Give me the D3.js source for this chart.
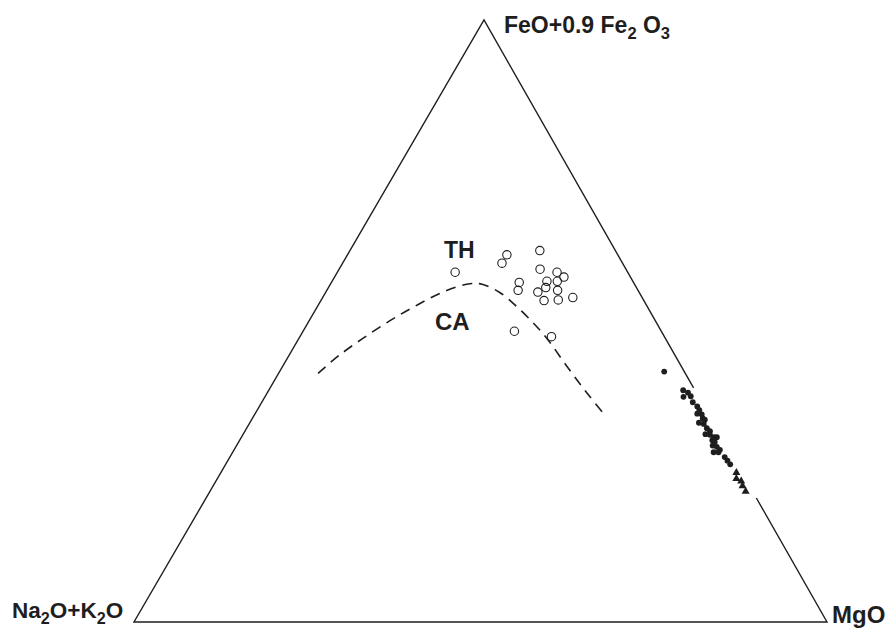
<!DOCTYPE html>
<html><head><meta charset="utf-8">
<script src="https://cdn.jsdelivr.net/npm/d3@7"></script>
<style>body{margin:0;background:#fff}</style>
</head><body>
<svg id="c" width="891" height="631"></svg>
<script>
// Ternary compositions [A, F, M] in %  (A = Na2O+K2O, F = FeO+0.9Fe2O3, M = MgO)
const openCircles = [
  [24.9,58.1,17.0],[16.0,61.0,23.0],[17.4,59.6,23.0],[10.9,61.7,27.4],[12.4,58.6,29.0],
  [10.2,58.1,31.7],[9.6,57.3,33.1],[10.9,56.6,32.5],[12.4,56.6,31.0],[16.5,56.4,27.1],
  [17.3,55.1,27.6],[13.1,55.6,31.4],[14.6,54.8,30.6],[11.6,55.1,33.3],[14.4,53.4,32.2],
  [12.3,53.5,34.2],[10.0,53.9,36.1],[21.2,48.3,30.5],[16.3,47.4,36.3]
];
const filledCircles = [
  [2.9,41.6,55.5],[1.7,38.5,59.8],[1.2,38.1,60.7],[2.2,37.4,60.4],[1.1,37.5,61.4],
  [1.3,36.5,62.2],[1.0,35.8,63.2],[1.0,35.2,63.8],[1.6,34.6,63.8],[1.0,34.5,64.5],
  [1.2,33.8,65.0],[1.0,33.6,65.4],[2.1,33.1,64.8],[1.5,32.9,65.6],[1.4,32.2,66.4],
  [1.2,31.7,67.1],[2.1,31.2,66.7],[1.5,31.1,67.4],[1.1,30.7,68.2],[0.7,30.7,68.6],
  [1.6,30.2,68.2],[1.4,29.9,68.7],[2.0,29.3,68.7],[1.5,29.1,69.4],[1.3,28.6,70.1],
  [2.4,28.2,69.4],[1.7,28.2,70.1],[1.2,27.4,71.4],[1.1,26.8,72.1],[1.0,26.2,72.8]
];
const filledTriangles = [
  [0.8,24.8,74.4],[1.3,23.8,74.9],[0.8,23.4,75.8],[1.0,22.6,76.4],[1.0,21.7,77.3]
];
// Tholeiitic / calc-alkaline dividing line
const boundary = [
  [53.0,41.3,5.7],[48.3,44.4,7.3],[39.7,49.3,11.0],[33.8,52.3,13.9],[28.3,54.8,16.9],
  [23.7,56.2,20.1],[22.0,56.1,21.9],[20.1,54.7,25.2],[18.8,52.3,28.9],[17.8,49.7,32.5],
  [17.1,47.1,35.8],[16.5,42.4,41.1],[15.8,38.0,46.2],[15.0,34.1,50.9]
];
const vertexLabels = ["Na2O+K2O", "FeO+0.9 Fe2O3", "MgO"];
const fieldLabels = ["TH", "CA"];

const svg = d3.select("#c");
const ink = "#1e1e1e";
const fontFam = "'Liberation Sans', Arial, sans-serif";

// scales: F -> vertical, F -> horizontal shift, M -> horizontal along base
const yF = d3.scaleLinear().domain([0,100]).range([622,20]);
const xF = d3.scaleLinear().domain([0,100]).range([134,484]);
const xM = d3.scaleLinear().domain([0,100]).range([0,693]);
function proj(d){
  const s = d[0]+d[1]+d[2];
  const f = d[1]/s*100, m = d[2]/s*100;
  return [xF(f) + xM(m), yF(f)];
}

// triangle (right edge interrupted where the data plot on it)
const line = d3.line();
svg.append("path")
  .attr("d", line([proj([0,38.9,61.1]), proj([0,100,0]), proj([100,0,0]), proj([0,0,100]), proj([0,20.6,79.4])]))
  .attr("fill","none").attr("stroke",ink).attr("stroke-width",1.4).attr("stroke-linejoin","miter");

// dashed boundary
svg.append("path")
  .attr("d", d3.line().curve(d3.curveCatmullRom.alpha(0.5))(boundary.map(proj)))
  .attr("fill","none").attr("stroke",ink).attr("stroke-width",1.6)
  .attr("stroke-dasharray","10,7");

// open circles
svg.append("g").selectAll("circle").data(openCircles).join("circle")
  .attr("cx", d=>proj(d)[0]).attr("cy", d=>proj(d)[1]).attr("r",4.2)
  .attr("fill","none").attr("stroke",ink).attr("stroke-width",1.1);

// filled circles
svg.append("g").selectAll("circle").data(filledCircles).join("circle")
  .attr("cx", d=>proj(d)[0]).attr("cy", d=>proj(d)[1]).attr("r",2.9)
  .attr("fill",ink);

// filled triangles
const tri = d3.symbol().type(d3.symbolTriangle).size(28);
svg.append("g").selectAll("path").data(filledTriangles).join("path")
  .attr("d", tri)
  .attr("transform", d=>`translate(${proj(d)[0]},${proj(d)[1]})`)
  .attr("fill",ink);

// labels with subscripts
function label(x, y, parts, size){
  const t = svg.append("text").attr("x",x).attr("y",y)
    .attr("font-family",fontFam).attr("font-weight","bold").attr("font-size",size).attr("fill",ink);
  let shifted = false;
  parts.forEach(p=>{
    const ts = t.append("tspan").text(p.t);
    if (p.sub && !shifted){ ts.attr("dy", size*0.28).attr("font-size", size*0.72); shifted = true; }
    else if (p.sub){ ts.attr("font-size", size*0.72); }
    else if (!p.sub && shifted){ ts.attr("dy", -size*0.28); shifted = false; }
  });
  return t;
}
label(504, 33, [{t:"FeO+0.9 Fe"},{t:"2",sub:true},{t:" O"},{t:"3",sub:true}], 23);
label(12, 618, [{t:"Na"},{t:"2",sub:true},{t:"O+K"},{t:"2",sub:true},{t:"O"}], 22.5);
label(832, 623, [{t:"MgO"}], 24);
label(444, 258, [{t:fieldLabels[0]}], 23);
label(435, 330, [{t:fieldLabels[1]}], 24);
</script>
</body></html>
